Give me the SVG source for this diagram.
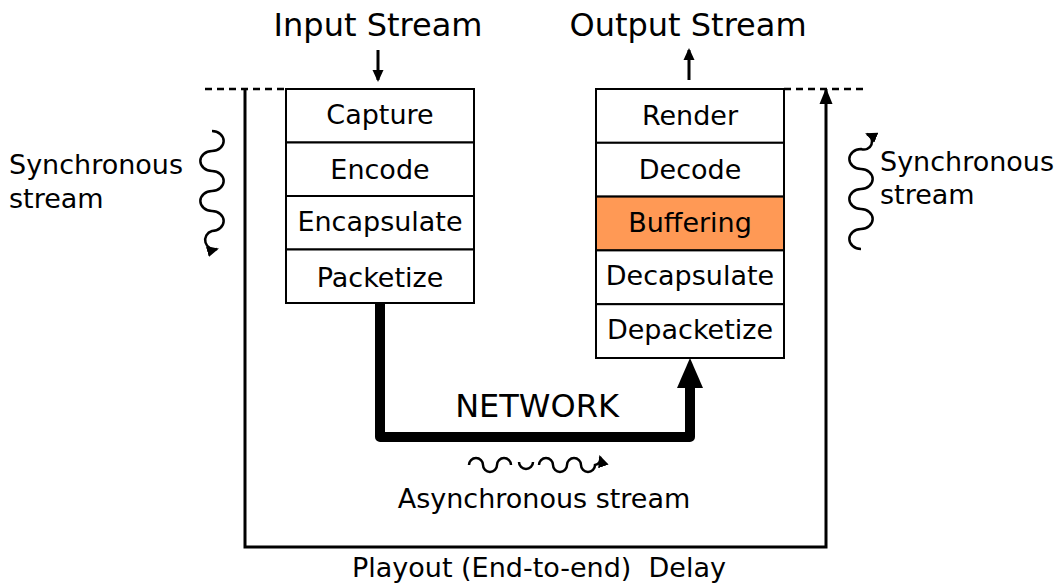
<svg xmlns="http://www.w3.org/2000/svg" width="1057" height="585" viewBox="0 0 1057 585">
<style>
text{font-family:"DejaVu Sans",sans-serif;fill:#000}
.box{fill:#fff;stroke:#000;stroke-width:2}
.lbl{font-size:27px;text-anchor:middle}
.ln{fill:none;stroke:#000;stroke-width:3}
.dash{fill:none;stroke:#000;stroke-width:2.5;stroke-dasharray:7,5}
.wave{fill:none;stroke:#000;stroke-width:2.5}
</style>
<defs>
<marker id="ah" markerWidth="12" markerHeight="12" refX="10" refY="6" orient="auto" markerUnits="userSpaceOnUse" viewBox="0 0 12 12"><path d="M0,0.5 L12,6 L0,11.5 z" fill="#000"/></marker>
<marker id="ahs" markerWidth="16" markerHeight="16" refX="15" refY="8" orient="auto" markerUnits="userSpaceOnUse" viewBox="0 0 16 16"><path d="M0,1.5 L16,8 L0,14.5 z" fill="#000"/></marker>
</defs>
<text x="378" y="36" style="font-size:32px;text-anchor:middle">Input Stream</text>
<text x="688" y="36" style="font-size:32px;text-anchor:middle">Output Stream</text>
<text x="9" y="174" style="font-size:27px">Synchronous</text>
<text x="9" y="208" style="font-size:27px">stream</text>
<text x="880" y="171" style="font-size:27px">Synchronous</text>
<text x="880" y="204" style="font-size:27px">stream</text>
<text x="537" y="417" style="font-size:32px;text-anchor:middle">NETWORK</text>
<text x="544" y="508" style="font-size:27px;text-anchor:middle">Asynchronous stream</text>
<text x="539" y="577" style="font-size:27px;text-anchor:middle;white-space:pre" xml:space="preserve">Playout (End-to-end)  Delay</text>
<g id="connectors">
<path class="dash" d="M205,89 H286"/>
<path class="dash" d="M784,89 H866"/>
<path class="ln" d="M245,89 V547 H826 V89" marker-end="url(#ahs)"/>
<path class="ln" d="M378,50 V80" stroke-width="2.5" marker-end="url(#ah)"/>
<path class="ln" d="M689,80 V50" stroke-width="2.5" marker-end="url(#ah)"/>
<path d="M380,304 V437 H690 V385" fill="none" stroke="#000" stroke-width="10" stroke-linejoin="round"/>
<path d="M677,388 L690,358 L703,388 z" fill="#000"/>
<path class="wave" d="M212,131 a7,6 0 0 1 0,20 a7,6 0 0 0 0,20 a7,6 0 0 1 0,20 a7,6 0 0 0 0,20 a7,6 0 0 1 0,20 a6,6 0 0 0 5,18" marker-end="url(#ah)"/>
<path class="wave" d="M861,249 a7,6 0 0 1 0,-20 a7,6 0 0 0 0,-20 a7,6 0 0 1 0,-20 a7,6 0 0 0 0,-20 a7,6 0 0 1 0,-20 a6,6 0 0 0 6,-15" marker-end="url(#ah)"/>
<path class="wave" d="M469,465 a7,7 0 0 1 14,0 a7,7 0 0 0 14,0 a7,7 0 0 1 14,0 M519,462 a7,7 0 0 0 14,0 M539,465 a7,7 0 0 1 14,0 a7,7 0 0 0 14,0 a7,7 0 0 1 14,0 a7,7 0 0 0 14,0 a6,6 0 0 0 5,-8" marker-end="url(#ah)"/>
</g>
<g id="capture"><rect class="box" x="286" y="89" width="188" height="53.5"/><text class="lbl" x="380" y="124">Capture</text></g>
<g id="encode"><rect class="box" x="286" y="142.5" width="188" height="53.5"/><text class="lbl" x="380" y="179">Encode</text></g>
<g id="encapsulate"><rect class="box" x="286" y="196" width="188" height="53.5"/><text class="lbl" x="380" y="231">Encapsulate</text></g>
<g id="packetize"><rect class="box" x="286" y="249.5" width="188" height="53.5"/><text class="lbl" x="380" y="287">Packetize</text></g>
<g id="render"><rect class="box" x="596" y="89" width="188" height="53.8"/><text class="lbl" x="690" y="125">Render</text></g>
<g id="decode"><rect class="box" x="596" y="142.8" width="188" height="53.8"/><text class="lbl" x="690" y="179">Decode</text></g>
<g id="buffering"><rect class="box" x="596" y="196.6" width="188" height="53.8" style="fill:#ff9955"/><text class="lbl" x="690" y="232">Buffering</text></g>
<g id="decapsulate"><rect class="box" x="596" y="250.4" width="188" height="53.8"/><text class="lbl" x="690" y="285">Decapsulate</text></g>
<g id="depacketize"><rect class="box" x="596" y="304.2" width="188" height="53.8"/><text class="lbl" x="690" y="339">Depacketize</text></g>
</svg>
